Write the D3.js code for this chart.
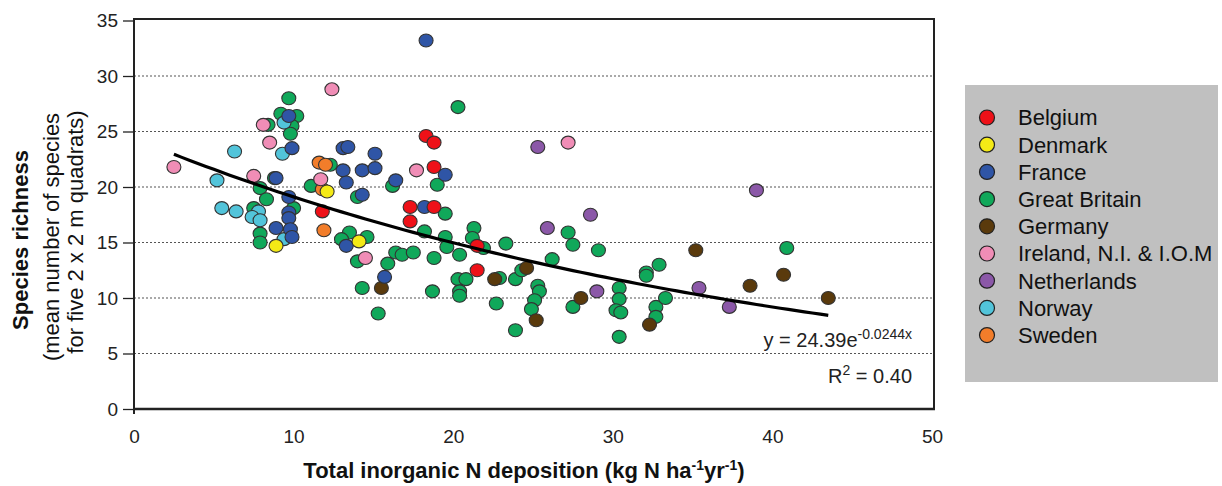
<!DOCTYPE html>
<html lang="en">
<head>
  <meta charset="UTF-8">
  <title>Species richness vs N deposition</title>
  <style>
    body, html { margin: 0; padding: 0; background: #fff; }
    #svg { display: block; font-family: 'Liberation Sans', Arial, sans-serif; }
  </style>
</head>
<body>
  <svg id="svg" width="1222" height="486"></svg>
  <script src="https://d3js.org/d3.v7.min.js"></script>
  <script>
    // legend order
    const countries = ['Belgium', 'Denmark', 'France', 'Great Britain', 'Germany',
      'Ireland, N.I. & I.O.M', 'Netherlands', 'Norway', 'Sweden']
    const colours = ['#ee1118', '#f4ea16', '#2f55a6', '#10a85a', '#5a3a0c',
      '#f08db6', '#8b58a8', '#52c4da', '#f27d2a']

    // [N deposition, species richness]
    const belgium = [[18.3, 24.6], [18.8, 24.0], [18.8, 21.8], [17.3, 18.2], [18.8, 18.2],
      [17.3, 16.9], [21.5, 14.7], [21.5, 12.5], [11.8, 17.8]]
    const denmark = [[12.1, 19.6], [8.9, 14.7], [14.1, 15.1]]
    const france = [[18.3, 33.2], [9.7, 26.4], [9.9, 23.5], [13.1, 23.5], [13.4, 23.6],
      [15.1, 23.0], [13.1, 21.5], [14.3, 21.5], [15.1, 21.7], [13.3, 20.4], [16.4, 20.6],
      [8.9, 20.8], [9.7, 19.1], [14.3, 19.3], [9.7, 17.7], [9.7, 17.2], [8.9, 16.3],
      [9.8, 16.2], [9.9, 15.5], [13.3, 14.7], [15.7, 11.9], [19.5, 21.1], [18.2, 18.2]]
    const greatBritain = [[9.7, 28.0], [9.2, 26.6], [10.2, 26.4], [9.9, 25.5], [9.8, 24.8],
      [8.4, 25.6], [8.8, 20.8], [7.9, 19.9], [8.3, 18.9], [12.3, 22.0], [16.2, 20.1],
      [11.1, 20.1], [14.0, 19.1], [7.5, 18.1], [10.0, 18.1], [7.9, 15.8], [7.9, 15.0],
      [13.5, 15.9], [13.0, 15.3], [14.6, 15.5], [14.0, 13.3], [15.9, 13.1], [16.4, 14.1],
      [16.8, 13.9], [14.3, 10.9], [15.3, 8.6], [19.0, 20.2], [19.5, 17.6], [18.2, 16.0],
      [19.5, 15.5], [19.6, 14.6], [21.3, 16.3], [21.2, 15.4], [21.9, 14.5], [20.4, 13.9],
      [18.8, 13.6], [17.5, 14.1], [18.7, 10.6], [20.3, 11.7], [20.8, 11.7], [20.4, 10.6],
      [20.4, 10.2], [22.7, 9.5], [20.3, 27.2], [23.3, 14.9], [26.2, 13.5], [27.2, 15.9],
      [27.5, 14.8], [29.1, 14.3], [22.9, 11.8], [23.9, 11.7], [24.3, 12.5], [25.3, 11.1],
      [25.4, 10.6], [25.1, 9.8], [24.9, 9.0], [23.9, 7.1], [27.5, 9.2], [30.4, 10.9],
      [30.4, 9.9], [30.2, 8.9], [30.5, 8.7], [30.4, 6.5], [32.1, 12.3], [32.1, 12.0],
      [32.9, 13.0], [32.7, 9.2], [32.7, 8.3], [33.3, 10.0], [40.9, 14.5]]
    const germany = [[15.5, 10.9], [22.6, 11.7], [24.6, 12.7], [25.2, 8.0], [28.0, 10.0],
      [32.3, 7.6], [35.2, 14.3], [40.7, 12.1], [38.6, 11.1], [43.5, 10.0]]
    const ireland = [[12.4, 28.8], [8.1, 25.6], [8.5, 24.0], [2.5, 21.8], [7.5, 21.0],
      [11.7, 20.7], [14.5, 13.6], [17.7, 21.5], [27.2, 24.0]]
    const netherlands = [[25.3, 23.6], [25.9, 16.3], [28.6, 17.5], [29.0, 10.6],
      [39.0, 19.7], [35.4, 10.9], [37.3, 9.2]]
    const norway = [[9.4, 25.8], [9.3, 23.0], [6.3, 23.2], [5.2, 20.6], [5.5, 18.1],
      [6.4, 17.8], [7.8, 17.8], [7.4, 17.3], [7.9, 17.0], [9.4, 15.3]]
    const sweden = [[11.6, 22.2], [12.0, 22.0], [11.8, 19.8], [11.9, 16.1]]

    const xTicks = [0, 10, 20, 30, 40, 50]
    const yTicks = [0, 5, 10, 15, 20, 25, 30, 35]
    const gridValues = [5, 10, 15, 20, 25, 30]

    // exponential fit shown on the chart
    const fitA = 24.39
    const fitB = -0.0244
    const fitFrom = 2.5
    const fitTo = 43.7

    const svg = d3.select('#svg')
    const x = d3.scaleLinear().domain([0, 50]).range([134, 932])
    const y = d3.scaleLinear().domain([0, 35]).range([409, 20.5])
    const colour = d3.scaleOrdinal().domain(countries).range(colours)

    // gridlines
    svg.append('g')
      .selectAll('line')
      .data(gridValues)
      .join('line')
      .attr('x1', x(0)).attr('x2', 934)
      .attr('y1', d => y(d)).attr('y2', d => y(d))
      .attr('stroke', '#555')
      .attr('stroke-width', 1.2)
      .attr('stroke-dasharray', '2,2')

    // y axis
    const yAxis = svg.append('g')
      .attr('transform', `translate(${x(0)},0)`)
      .call(d3.axisLeft(y).tickValues(yTicks).tickSize(11).tickPadding(5))
    yAxis.select('.domain').remove()
    yAxis.selectAll('line').attr('stroke', '#222').attr('stroke-width', 1.3)
    yAxis.selectAll('text').attr('font-size', 19).attr('fill', '#222')
      .attr('font-family', 'Liberation Sans, Arial, sans-serif')

    // x axis labels
    const xAxis = svg.append('g')
      .attr('transform', `translate(0,${y(0)})`)
      .call(d3.axisBottom(x).tickValues(xTicks).tickSize(0).tickPadding(21))
    xAxis.select('.domain').remove()
    xAxis.selectAll('text').attr('font-size', 19).attr('fill', '#222')
      .attr('font-family', 'Liberation Sans, Arial, sans-serif')

    // frame
    const frame = svg.append('g').attr('stroke', '#222').attr('fill', 'none')
    frame.append('line').attr('x1', x(0)).attr('x2', x(0)).attr('y1', 18).attr('y2', 414).attr('stroke-width', 2)
    frame.append('line').attr('x1', x(0)).attr('x2', 935).attr('y1', y(0)).attr('y2', y(0)).attr('stroke-width', 2.5)
    frame.append('line').attr('x1', x(0)).attr('x2', 935).attr('y1', 19).attr('y2', 19).attr('stroke-width', 2)
    frame.append('line').attr('x1', 934).attr('x2', 934).attr('y1', 18).attr('y2', y(0)).attr('stroke-width', 2)

    // points, GB first so the smaller groups sit on top
    const drawOrder = [
      ['Great Britain', greatBritain], ['Germany', germany], ['Norway', norway],
      ['Sweden', sweden], ['Ireland, N.I. & I.O.M', ireland], ['France', france],
      ['Belgium', belgium], ['Denmark', denmark], ['Netherlands', netherlands]
    ]
    const points = drawOrder.flatMap(([c, arr]) => arr.map(d => ({ country: c, n: d[0], rich: d[1] })))

    svg.append('g')
      .selectAll('ellipse')
      .data(points)
      .join('ellipse')
      .attr('cx', d => x(d.n))
      .attr('cy', d => y(d.rich))
      .attr('rx', 7)
      .attr('ry', 6.5)
      .attr('fill', d => colour(d.country))
      .attr('stroke', '#333')
      .attr('stroke-width', 1.1)

    // fitted curve
    const fitX = d3.range(fitFrom, fitTo + 0.01, 0.5)
    const line = d3.line().x(d => x(d)).y(d => y(fitA * Math.exp(fitB * d))).curve(d3.curveBasis)
    svg.append('path')
      .attr('d', line(fitX))
      .attr('fill', 'none')
      .attr('stroke', '#000')
      .attr('stroke-width', 3.2)

    // equation and R2
    const eq = svg.append('text')
      .attr('x', 912).attr('y', 347)
      .attr('text-anchor', 'end')
      .attr('font-size', 20)
      .attr('fill', '#222')
    eq.append('tspan').text(`y = ${fitA}e`)
    eq.append('tspan').attr('dy', -8).attr('font-size', 14).text(`${fitB}x`)

    const r2 = svg.append('text')
      .attr('x', 912).attr('y', 383)
      .attr('text-anchor', 'end')
      .attr('font-size', 20)
      .attr('fill', '#222')
    r2.append('tspan').text('R')
    r2.append('tspan').attr('dy', -8).attr('font-size', 14).text('2')
    r2.append('tspan').attr('dy', 8).text(' = 0.40')

    // axis titles
    const xt = svg.append('text')
      .attr('x', 524).attr('y', 478)
      .attr('text-anchor', 'middle')
      .attr('font-size', 22)
      .attr('font-weight', 'bold')
      .attr('fill', '#111')
    xt.append('tspan').text('Total inorganic N deposition (kg N ha')
    xt.append('tspan').attr('dy', -8).attr('font-size', 14).text('-1')
    xt.append('tspan').attr('dy', 8).text('yr')
    xt.append('tspan').attr('dy', -8).attr('font-size', 14).text('-1')
    xt.append('tspan').attr('dy', 8).text(')')

    const yTitles = [
      { text: 'Species richness', bx: 28, cy: 240, size: 22, weight: 'bold' },
      { text: '(mean number of species', bx: 59, cy: 237, size: 22, weight: 'normal' },
      { text: 'for five 2 x 2 m quadrats)', bx: 83, cy: 232, size: 22, weight: 'normal' }
    ]
    svg.append('g')
      .selectAll('text')
      .data(yTitles)
      .join('text')
      .attr('transform', d => `translate(${d.bx},${d.cy}) rotate(-90)`)
      .attr('text-anchor', 'middle')
      .attr('font-size', d => d.size)
      .attr('font-weight', d => d.weight)
      .attr('fill', '#111')
      .text(d => d.text)

    // legend
    const legend = svg.append('g')
    legend.append('rect')
      .attr('x', 965).attr('y', 85).attr('width', 253).attr('height', 297)
      .attr('fill', '#c0c0c0')
    const items = legend.selectAll('g.item')
      .data(countries)
      .join('g')
      .attr('class', 'item')
      .attr('transform', (d, i) => `translate(987,${117.5 + i * 27.2})`)
    items.append('circle')
      .attr('r', 7.5)
      .attr('fill', d => colour(d))
      .attr('stroke', '#222')
      .attr('stroke-width', 1.2)
    items.append('text')
      .attr('x', 31)
      .attr('dy', '0.36em')
      .attr('font-size', 22)
      .attr('fill', '#111')
      .text(d => d)
  </script>
</body>
</html>
